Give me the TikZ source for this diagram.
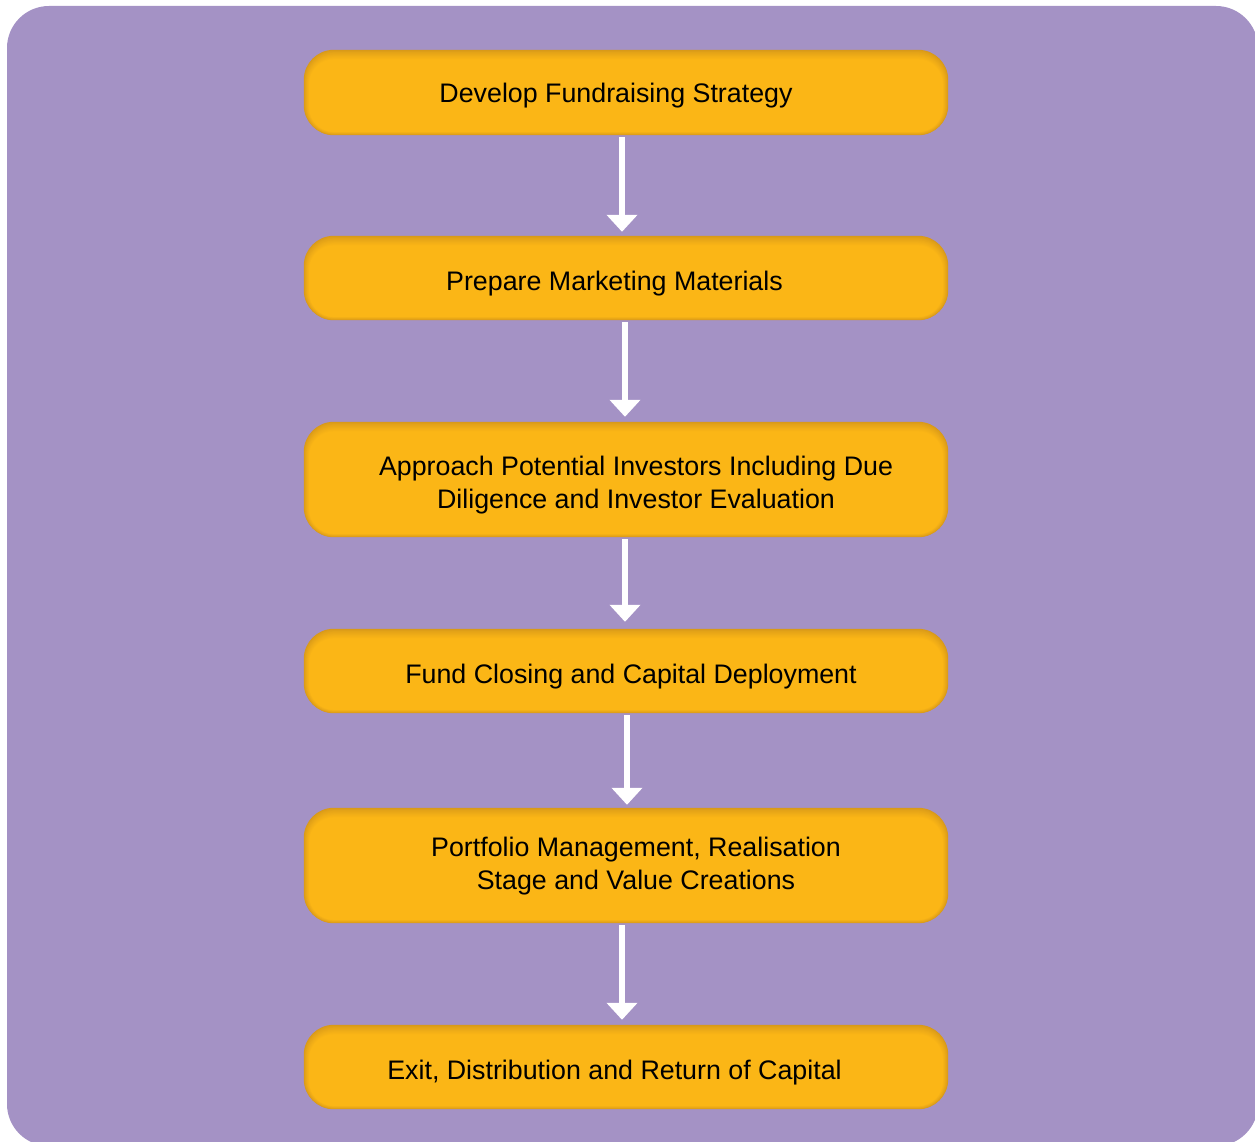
\documentclass[tikz,border=0pt]{standalone}
\usepackage{fontspec}
\setmainfont{Liberation Sans}
\usetikzlibrary{arrows.meta}
\definecolor{panel}{HTML}{A492C5}
\definecolor{boxfill}{HTML}{FBB616}
\definecolor{boxedge}{HTML}{D89919}
\tikzset{
  steptext/.style={font=\fontsize{26.8}{33}\selectfont, text=black, align=center, inner sep=0pt},
  stepanchor/.style={draw=none, inner sep=0pt, minimum width=644pt},
  flow/.style={white, line width=6pt, -{Triangle[width=30pt,length=17pt]}},
}
% rounded box with a soft inner shadow, darker along the top edge
\newcommand{\shadedbox}[3]{% name, centre y, height
  \node[stepanchor, minimum height=#3pt] (#1) at (626,#2) {};
  \foreach \k in {0,...,12}{
    \pgfmathsetmacro{\mix}{100*(\k/12)^0.8}
    \pgfmathsetmacro{\sx}{\k*0.45}
    \pgfmathsetmacro{\st}{\k*0.8}
    \pgfmathsetmacro{\sb}{\k*0.28}
    \pgfmathsetmacro{\rr}{30-\k*0.45}
    \fill[boxfill!\mix!boxedge, rounded corners=\rr pt]
      ([xshift=\sx pt, yshift=\sb pt]#1.south west) rectangle
      ([xshift=-\sx pt, yshift=-\st pt]#1.north east);
  }
}
\begin{document}
\begin{tikzpicture}[x=1pt,y=-1pt]
  \useasboundingbox (0,0) rectangle (1255,1142);
  \clip (0,0) rectangle (1255,1142);
  \fill[panel, rounded corners=42pt] (7,6) rectangle (1258,1146);

  \shadedbox{b1}{92.5}{85}
  \shadedbox{b2}{278}{84}
  \shadedbox{b3}{479.5}{115}
  \shadedbox{b4}{671}{84}
  \shadedbox{b5}{865.5}{115}
  \shadedbox{b6}{1067}{84}

  \node[steptext] (t1) at (616,95.5) {Develop Fundraising Strategy};
  \node[steptext] (t2) at (614.5,283.5) {Prepare Marketing Materials};
  \node[steptext] (t3) at (636,485.5) {Approach Potential Investors Including Due\\Diligence and Investor Evaluation};
  \node[steptext] (t4) at (631,676.5) {Fund Closing and Capital Deployment};
  \node[steptext] (t5) at (636,866.5) {Portfolio Management, Realisation\\Stage and Value Creations};
  \node[steptext] (t6) at (614.5,1072.5) {Exit, Distribution and Return of Capital};

  \draw[flow] ([xshift=-4pt,yshift=-2pt]b1.south) -- ([xshift=-4pt,yshift=4pt]b2.north);
  \draw[flow] ([xshift=-1pt,yshift=-2pt]b2.south) -- ([xshift=-1pt,yshift=5pt]b3.north);
  \draw[flow] ([xshift=-1pt,yshift=-2pt]b3.south) -- ([xshift=-1pt,yshift=7pt]b4.north);
  \draw[flow] ([xshift=1pt,yshift=-2pt]b4.south) -- ([xshift=1pt,yshift=3pt]b5.north);
  \draw[flow] ([xshift=-4pt,yshift=-2pt]b5.south) -- ([xshift=-4pt,yshift=5pt]b6.north);
\end{tikzpicture}
\end{document}
